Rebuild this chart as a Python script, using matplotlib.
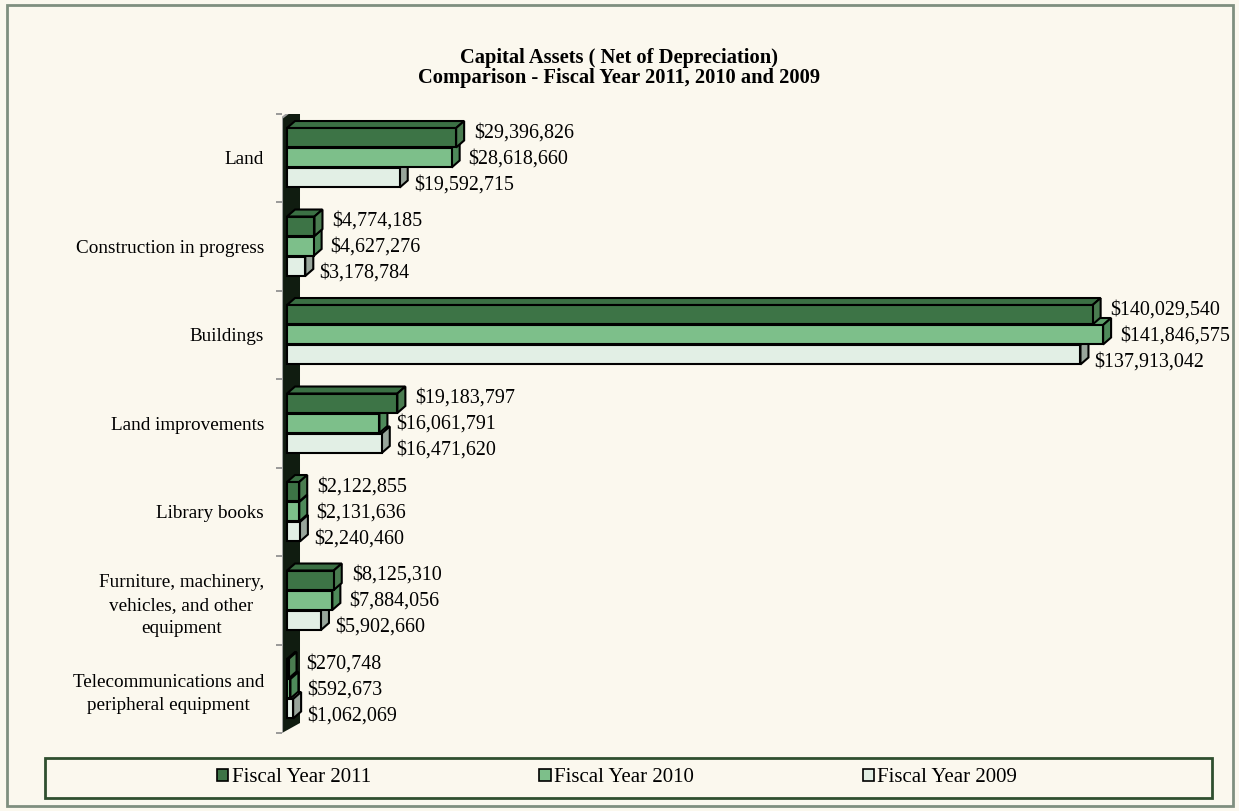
import matplotlib.pyplot as plt
from matplotlib.patches import Polygon, Rectangle, Patch
import numpy as np

# data
categories = ['Land', 'Construction in progress', 'Buildings', 'Land improvements',
              'Library books', 'Furniture, machinery,\nvehicles, and other\nequipment',
              'Telecommunications and\nperipheral equipment']
fy2011 = [29396826, 4774185, 140029540, 19183797, 2122855, 8125310, 270748]
fy2010 = [28618660, 4627276, 141846575, 16061791, 2131636, 7884056, 592673]
fy2009 = [19592715, 3178784, 137913042, 16471620, 2240460, 5902660, 1062069]
series_names = ['Fiscal Year 2011', 'Fiscal Year 2010', 'Fiscal Year 2009']

plt.rcParams['font.family'] = ['Liberation Serif', 'DejaVu Serif']

W, H = 1239, 811
bg = '#FBF8EE'
fig = plt.figure(figsize=(W / 100, H / 100), dpi=100, facecolor=bg)

# outer border
fig.patches.append(Rectangle((7 / W, 5 / H), 1226 / W, 801 / H, transform=fig.transFigure,
                             fill=False, edgecolor='#7F8F7F', lw=2))

ax = fig.add_axes([282 / W, 1 - 733 / H, (1150 - 282) / W, (733 - 113.5) / H])
ax.set_facecolor('none')
ax.set_xlim(-0.87e6, 150e6)
ax.set_ylim(6.5, -0.5)
for s in ax.spines.values():
    s.set_visible(False)

T = ax.transData
px_x = (T.transform((1e6, 0))[0] - T.transform((0, 0))[0]) / 1e6
px_y = abs(T.transform((0, 1))[1] - T.transform((0, 0))[1])

# back wall
wx0, wx1 = -5 / px_x, 13 / px_x
wall = Polygon([(wx0, 6.5), (wx0, -0.45), (wx1, -0.45 - 14 / px_y), (wx1, 6.5 - 10 / px_y)],
               closed=True, facecolor='#101C10', edgecolor='none', zorder=1)
ax.add_patch(wall)
ax.plot([wx0, wx0, wx1], [6.5, -0.45, -0.45 - 14 / px_y], color='#A0A0A0', lw=1.5, zorder=1.5,
        solid_joinstyle='miter')

front = ['#3D7446', '#7DBF8A', '#E2EFE5']
side = ['#4A7C50', '#4E8A5A', '#98A59B']
top = ['#3B7044', '#5E9E6A', '#C9D6CC']
ddx = 8 / px_x
ddy = 7 / px_y
h = 0.22
offs = [-0.226, 0.0, 0.226]
lab_dx = [10, 9, 6]
lab_dy = [-5, 1, 7]

y = np.arange(len(categories))
series = [fy2011, fy2010, fy2009]
for k in [2, 1, 0]:
    vals = series[k]
    z = 3 + (2 - k)
    for i, v in enumerate(vals):
        yc = y[i] + offs[k]
        t, b = yc - h / 2, yc + h / 2
        ax.add_patch(Polygon([(0, t), (v, t), (v + ddx, t - ddy), (ddx, t - ddy)], closed=True,
                             facecolor=top[k], edgecolor='black', lw=1.5, zorder=z, joinstyle='miter'))
        ax.add_patch(Polygon([(v, t), (v, b), (v + ddx, b - ddy), (v + ddx, t - ddy)], closed=True,
                             facecolor=side[k], edgecolor='black', lw=1.5, zorder=z, joinstyle='miter'))
        ax.barh(yc, v, height=h, color=front[k], edgecolor='black', lw=1.5, zorder=z + 0.1)
        ax.annotate(f'${v:,.0f}', (v + ddx, yc), xytext=(lab_dx[k], -lab_dy[k]),
                    textcoords='offset pixels', ha='left', va='center', fontsize=14.4, zorder=10)

ax.set_yticks(y)
ax.set_yticklabels(categories, fontsize=13.8, linespacing=1.45, multialignment='center')
ax.tick_params(axis='y', which='major', length=0, pad=13)
ax.set_yticks(np.arange(-0.5, 7, 1), minor=True)
ax.tick_params(axis='y', which='minor', length=4, width=1.2, color='#8A8A8A', direction='out')
ax.set_xticks([])

fig.text(0.5, 1 - 58 / H, 'Capital Assets ( Net of Depreciation)', ha='center', va='center',
         fontsize=14.8, fontweight='bold')
fig.text(0.5, 1 - 78 / H, 'Comparison - Fiscal Year 2011, 2010 and 2009', ha='center', va='center',
         fontsize=14.8, fontweight='bold')

# legend
fig.patches.append(Rectangle((45 / W, 1 - 798 / H), 1167 / W, 40 / H, transform=fig.transFigure,
                             fill=False, edgecolor='#2F4F2F', lw=2))
handles = [Patch(facecolor=front[k], edgecolor='black', lw=1.2) for k in range(3)]
fig.legend(handles, series_names, loc='center', bbox_to_anchor=(617 / W, 1 - 778 / H), ncol=3,
           frameon=False, fontsize=15, handlelength=0.55, handleheight=0.55, handletextpad=0.15,
           columnspacing=8.1)

plt.savefig('out.png', dpi=100, facecolor=bg)
